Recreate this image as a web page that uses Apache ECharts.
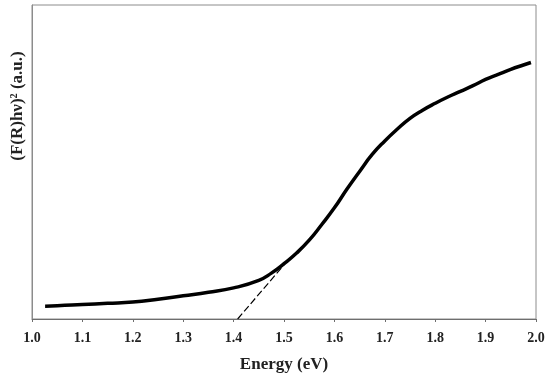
<!DOCTYPE html>
<html>
<head>
<meta charset="utf-8">
<script src="https://cdn.jsdelivr.net/npm/echarts@6/dist/echarts.min.js"></script>
<style>html,body{margin:0;padding:0;background:#fff;}#c{width:550px;height:378px;}</style>
</head>
<body>
<div id="c"></div>
<script>
const energy = [1.026,1.05,1.10,1.15,1.20,1.25,1.30,1.35,1.40,1.45,1.475,1.50,1.525,1.55,1.575,1.60,1.625,1.65,1.675,1.70,1.725,1.75,1.775,1.80,1.825,1.85,1.875,1.90,1.925,1.95,1.975,1.99];
const absorb = [4.1,4.2,4.6,5.0,5.4,6.3,7.4,8.5,9.9,12.3,14.6,17.6,21.0,25.1,30.1,35.4,41.4,47.0,52.4,56.7,60.5,63.9,66.5,68.7,70.7,72.5,74.3,76.3,77.9,79.5,80.9,81.7];
const tangentX = [1.408, 1.502];
const tangentY = [0, 17.6];
const xTicks = ['1.0','1.1','1.2','1.3','1.4','1.5','1.6','1.7','1.8','1.9','2.0'];

const chart = echarts.init(document.getElementById('c'), null, {renderer:'canvas'});
chart.setOption({
  animation:false,
  backgroundColor:'#fff',
  grid:{left:32,right:14,top:5,bottom:54,show:true,borderColor:'#8c8c8c',borderWidth:1},
  xAxis:{
    type:'value',min:1.0,max:2.0,interval:0.1,
    axisLine:{show:true,lineStyle:{color:'#6e6e6e',width:1}},
    axisTick:{show:true,length:3,lineStyle:{color:'#6e6e6e'}},
    splitLine:{show:false},
    axisLabel:{color:'#222',fontFamily:'Liberation Serif',fontWeight:'bold',fontSize:14,margin:12,
      formatter:function(v){return xTicks[Math.round((v-1)*10)];}},
    name:'Energy (eV)',nameLocation:'middle',nameGap:37,
    nameTextStyle:{color:'#222',fontFamily:'Liberation Serif',fontWeight:'bold',fontSize:17}
  },
  yAxis:{
    type:'value',min:0,max:100,
    axisLine:{show:true,lineStyle:{color:'#8c8c8c',width:1}},
    axisTick:{show:false},axisLabel:{show:false},splitLine:{show:false}
  },
  graphic:[{
    type:'text',x:18,y:106,rotation:Math.PI/2,
    style:{text:'(F(R)hν)² (a.u.)',fill:'#222',font:'bold 17px "Liberation Serif"',align:'center',verticalAlign:'middle'}
  }],
  series:[
    {type:'line',data:energy.map((x,i)=>[x,absorb[i]]),smooth:0.5,showSymbol:false,
     lineStyle:{color:'#000',width:3.5},z:3},
    {type:'line',data:tangentX.map((x,i)=>[x,tangentY[i]]),showSymbol:false,
     lineStyle:{color:'#000',width:1.2,type:[7,3]},z:2}
  ]
});
</script>
</body>
</html>
